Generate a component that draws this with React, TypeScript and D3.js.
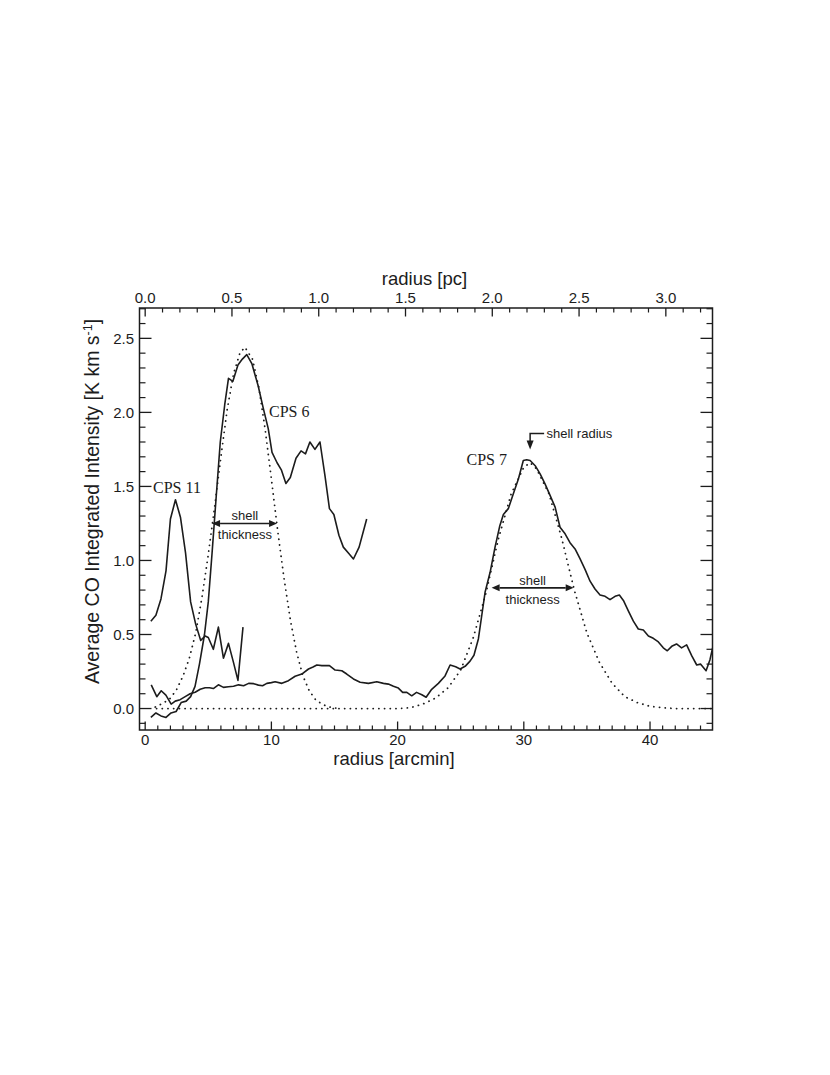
import React from 'react';
import * as d3 from 'd3';

// CPS 11 radial profile [radius arcmin, intensity]
const cps11: [number, number][] = [
  [0.45, 0.59], [0.85, 0.63], [1.25, 0.74], [1.65, 0.93], [2.0, 1.28], [2.4, 1.41],
  [2.8, 1.29], [3.2, 1.05], [3.6, 0.72], [4.0, 0.57], [4.4, 0.46], [4.75, 0.49],
  [5.0, 0.48], [5.4, 0.4], [5.8, 0.55], [6.2, 0.34], [6.6, 0.44], [7.0, 0.31],
  [7.35, 0.19], [7.75, 0.55],
];

// CPS 6 radial profile
const cps6: [number, number][] = [
  [0.45, -0.06], [0.85, -0.03], [1.25, -0.05], [1.65, -0.06], [2.05, -0.03], [2.45, -0.02],
  [2.85, 0.04], [3.25, 0.05], [3.6, 0.08], [3.95, 0.15], [4.3, 0.3], [4.7, 0.5],
  [5.0, 0.72], [5.3, 1.05], [5.6, 1.4], [5.95, 1.8], [6.3, 2.05], [6.6, 2.23],
  [6.95, 2.21], [7.35, 2.32], [7.7, 2.36], [8.05, 2.39], [8.45, 2.33], [8.95, 2.18],
  [9.35, 2.03], [9.75, 1.89], [10.05, 1.73], [10.45, 1.66], [10.8, 1.61], [11.15, 1.52],
  [11.5, 1.56], [11.95, 1.69], [12.35, 1.74], [12.7, 1.72], [13.05, 1.8], [13.45, 1.75],
  [13.85, 1.8], [14.25, 1.57], [14.6, 1.35], [14.95, 1.31], [15.35, 1.17], [15.7, 1.09],
  [16.1, 1.05], [16.5, 1.01], [16.95, 1.09], [17.55, 1.28],
];

// CPS 7 radial profile
const cps7: [number, number][] = [
  [0.48, 0.16], [0.92, 0.08], [1.27, 0.12], [1.64, 0.09], [2.06, 0.03], [2.38, 0.05],
  [2.77, 0.06], [3.17, 0.08], [3.56, 0.1], [3.96, 0.11], [4.36, 0.13], [4.75, 0.14],
  [5.1, 0.14], [5.4, 0.135], [5.8, 0.16], [6.2, 0.143], [6.6, 0.147], [7.0, 0.15],
  [7.4, 0.16], [7.8, 0.154], [8.2, 0.17], [8.6, 0.168], [8.97, 0.158], [9.3, 0.154],
  [9.64, 0.17], [10.0, 0.175], [10.3, 0.181], [10.83, 0.17], [11.35, 0.188], [11.88, 0.218],
  [12.41, 0.233], [12.94, 0.267], [13.3, 0.28], [13.6, 0.294], [14.0, 0.29], [14.3, 0.29],
  [14.6, 0.29], [15.05, 0.26], [15.58, 0.255], [15.97, 0.233], [16.5, 0.2], [17.03, 0.177],
  [17.69, 0.17], [18.35, 0.181], [18.88, 0.17], [19.27, 0.165], [19.67, 0.15], [20.06, 0.138],
  [20.4, 0.109], [20.73, 0.109], [21.12, 0.086], [21.5, 0.109], [21.92, 0.093], [22.26, 0.076],
  [22.7, 0.13], [23.23, 0.17], [23.76, 0.22], [24.16, 0.294], [24.6, 0.282], [24.95, 0.267],
  [25.35, 0.285], [25.74, 0.32], [26.05, 0.36], [26.4, 0.47], [26.67, 0.63], [26.93, 0.785],
  [27.33, 0.92], [27.72, 1.09], [28.1, 1.235], [28.38, 1.31], [28.77, 1.35], [29.17, 1.45],
  [29.57, 1.55], [29.96, 1.675], [30.23, 1.68], [30.5, 1.675], [30.9, 1.64], [31.29, 1.585],
  [31.68, 1.517], [32.08, 1.44], [32.48, 1.36], [32.87, 1.224], [33.27, 1.18], [33.66, 1.12],
  [34.06, 1.078], [34.46, 1.01], [34.85, 0.94], [35.25, 0.86], [35.64, 0.807], [36.04, 0.767],
  [36.44, 0.758], [36.83, 0.735], [37.23, 0.758], [37.57, 0.767], [37.89, 0.73], [38.28, 0.66],
  [38.68, 0.59], [39.07, 0.537], [39.47, 0.53], [39.87, 0.49], [40.26, 0.474], [40.66, 0.45],
  [41.05, 0.41], [41.37, 0.39], [41.72, 0.42], [42.1, 0.436], [42.5, 0.41], [42.9, 0.43],
  [43.3, 0.357], [43.7, 0.294], [44.0, 0.3], [44.44, 0.255], [44.75, 0.33], [44.96, 0.41],
];

// dotted shell fits
const fit6: [number, number][] = [
  [0.8, 0.01], [1.5, 0.04], [2.0, 0.07], [2.5, 0.13], [3.0, 0.22], [3.5, 0.34], [4.0, 0.51],
  [4.5, 0.75], [5.0, 1.04], [5.5, 1.36], [6.0, 1.7], [6.5, 2.02], [7.0, 2.26], [7.5, 2.4],
  [7.9, 2.44], [8.5, 2.36], [9.0, 2.17], [9.5, 1.89], [10.0, 1.55], [10.5, 1.2], [11.0, 0.88],
  [11.5, 0.6], [12.0, 0.38], [12.5, 0.22], [13.0, 0.12], [13.5, 0.06], [14.0, 0.03],
  [14.5, 0.012], [15.0, 0.004], [15.5, 0.0],
];

const fit7: [number, number][] = [
  [0.9, 0.0], [20.0, 0.0], [21.0, 0.005], [22.0, 0.03], [23.0, 0.07], [24.0, 0.14],
  [25.0, 0.26], [26.0, 0.48], [27.0, 0.78], [28.0, 1.15], [29.0, 1.45], [30.0, 1.63],
  [30.5, 1.66], [31.0, 1.62], [32.0, 1.45], [33.0, 1.15], [34.0, 0.8], [35.0, 0.51],
  [36.0, 0.31], [37.0, 0.17], [38.0, 0.08], [39.0, 0.04], [40.0, 0.015], [41.0, 0.005],
  [42.0, 0.0], [45.0, 0.0],
];

const xTicks = [0, 10, 20, 30, 40];
const pcTicks = [0.0, 0.5, 1.0, 1.5, 2.0, 2.5, 3.0];
const yTicks = [0.0, 0.5, 1.0, 1.5, 2.0, 2.5];
const DIST_PC = 250; // pc per radian -> arcmin to pc

const W = 830;
const H = 1075;
const L = 139.5, R = 712.5, T = 308, B = 730;

const App = () => {
  const x = d3.scaleLinear().domain([-0.45, 44.95]).range([L, R]);
  const y = d3.scaleLinear().domain([-0.145, 2.705]).range([B, T]);
  const k = (DIST_PC * Math.PI) / 10800;
  const xpc = d3.scaleLinear().domain([-0.45 * k, 44.95 * k]).range([L, R]);

  const line = d3.line<[number, number]>().x(d => x(d[0])).y(d => y(d[1]));

  const sans = 'Liberation Sans, Arial, Helvetica, sans-serif';
  const serif = 'Liberation Serif, Times New Roman, serif';
  const ink = '#1c1c1c';

  const xMinor = d3.range(0, 45, 1).filter(v => v % 10 !== 0);
  const pcMinor = d3.range(1, 33).map(v => v / 10).filter(v => Math.abs(v * 2 - Math.round(v * 2)) > 1e-6);
  const yMinor = d3.range(-1, 28).map(v => v / 10).filter(v => Math.abs(v * 2 - Math.round(v * 2)) > 1e-6);

  const arrowH = (x1: number, x2: number, yy: number) => {
    const a = 8, w = 3.5;
    return (
      <g>
        <line x1={x1 + a} x2={x2 - a} y1={yy} y2={yy} stroke={ink} strokeWidth={1.6} />
        <path d={`M${x1},${yy}L${x1 + a},${yy - w}L${x1 + a},${yy + w}Z`} fill={ink} />
        <path d={`M${x2},${yy}L${x2 - a},${yy - w}L${x2 - a},${yy + w}Z`} fill={ink} />
      </g>
    );
  };

  const rx = x(30.5);
  const ry = y(1.75);

  return (
    <svg width={W} height={H} style={{ position: 'absolute', left: 0, top: 0, background: '#fff' }}>
      <defs>
        <clipPath id="plot">
          <rect x={L} y={T} width={R - L} height={B - T} />
        </clipPath>
      </defs>

      <g clipPath="url(#plot)" fill="none">
        <path d={line(fit6) || ''} stroke={ink} strokeWidth={1.8} strokeDasharray="0.1 5.6" strokeLinecap="round" />
        <path d={line(fit7) || ''} stroke={ink} strokeWidth={1.8} strokeDasharray="0.1 5.6" strokeLinecap="round" />
        <path d={line(cps11) || ''} stroke={ink} strokeWidth={1.6} strokeLinejoin="round" />
        <path d={line(cps6) || ''} stroke={ink} strokeWidth={1.6} strokeLinejoin="round" />
        <path d={line(cps7) || ''} stroke={ink} strokeWidth={1.6} strokeLinejoin="round" />
      </g>

      {/* frame */}
      <rect x={L} y={T} width={R - L} height={B - T} fill="none" stroke={ink} strokeWidth={1.5} />

      {/* bottom axis */}
      {xTicks.map(v => (
        <g key={'xb' + v}>
          <line x1={x(v)} x2={x(v)} y1={B} y2={B - 8.5} stroke={ink} strokeWidth={1.3} />
          <text x={x(v)} y={745} textAnchor="middle" fontFamily={sans} fontSize={15} fill={ink}>{v}</text>
        </g>
      ))}
      {xMinor.map(v => (
        <line key={'xm' + v} x1={x(v)} x2={x(v)} y1={B} y2={B - 4.5} stroke={ink} strokeWidth={1.2} />
      ))}

      {/* top axis in pc */}
      {pcTicks.map(v => (
        <g key={'xt' + v}>
          <line x1={xpc(v)} x2={xpc(v)} y1={T} y2={T + 8.5} stroke={ink} strokeWidth={1.3} />
          <text x={xpc(v)} y={303} textAnchor="middle" fontFamily={sans} fontSize={15} fill={ink}>{v.toFixed(1)}</text>
        </g>
      ))}
      {pcMinor.map(v => (
        <line key={'pm' + v} x1={xpc(v)} x2={xpc(v)} y1={T} y2={T + 4.5} stroke={ink} strokeWidth={1.2} />
      ))}

      {/* left and right axes */}
      {yTicks.map(v => (
        <g key={'y' + v}>
          <line x1={L} x2={L + 12} y1={y(v)} y2={y(v)} stroke={ink} strokeWidth={1.3} />
          <line x1={R} x2={R - 12} y1={y(v)} y2={y(v)} stroke={ink} strokeWidth={1.3} />
          <text x={134} y={y(v)} dy="0.36em" textAnchor="end" fontFamily={sans} fontSize={15} fill={ink}>{v.toFixed(1)}</text>
        </g>
      ))}
      {yMinor.map(v => (
        <g key={'ym' + v}>
          <line x1={L} x2={L + 6} y1={y(v)} y2={y(v)} stroke={ink} strokeWidth={1.2} />
          <line x1={R} x2={R - 6} y1={y(v)} y2={y(v)} stroke={ink} strokeWidth={1.2} />
        </g>
      ))}

      {/* axis titles */}
      <text x={424.5} y={285} textAnchor="middle" fontFamily={sans} fontSize={18.5} fill={ink}>radius [pc]</text>
      <text x={394} y={765} textAnchor="middle" fontFamily={sans} fontSize={18.5} fill={ink}>radius [arcmin]</text>
      <text transform="translate(99,501.5) rotate(-90)" textAnchor="middle" fontFamily={sans} fontSize={19.5} fill={ink}>
        Average CO Integrated Intensity [K km s<tspan fontSize={12.5} dy={-7}>-1</tspan><tspan dy={7}>]</tspan>
      </text>

      {/* source labels */}
      <text x={153} y={493} fontFamily={serif} fontSize={16} fill={ink}>CPS 11</text>
      <text x={269} y={417} fontFamily={serif} fontSize={16} fill={ink}>CPS 6</text>
      <text x={466.5} y={465} fontFamily={serif} fontSize={16} fill={ink}>CPS 7</text>

      {/* shell thickness arrows */}
      {arrowH(x(5.3), x(10.45), y(1.25))}
      <text x={x(7.9)} y={520} textAnchor="middle" fontFamily={sans} fontSize={13} fill={ink}>shell</text>
      <text x={x(7.9)} y={539} textAnchor="middle" fontFamily={sans} fontSize={13} fill={ink}>thickness</text>

      {arrowH(x(27.45), x(33.95), y(0.815))}
      <text x={x(30.7)} y={585} textAnchor="middle" fontFamily={sans} fontSize={13} fill={ink}>shell</text>
      <text x={x(30.7)} y={604} textAnchor="middle" fontFamily={sans} fontSize={13} fill={ink}>thickness</text>

      {/* shell radius pointer */}
      <path d={`M${rx + 14},433.5H${rx}V${ry - 8}`} fill="none" stroke={ink} strokeWidth={1.5} />
      <path d={`M${rx},${ry}L${rx - 3.5},${ry - 9}L${rx + 3.5},${ry - 9}Z`} fill={ink} />
      <text x={546.5} y={437.5} fontFamily={sans} fontSize={13} fill={ink}>shell radius</text>
    </svg>
  );
};

export default App;
